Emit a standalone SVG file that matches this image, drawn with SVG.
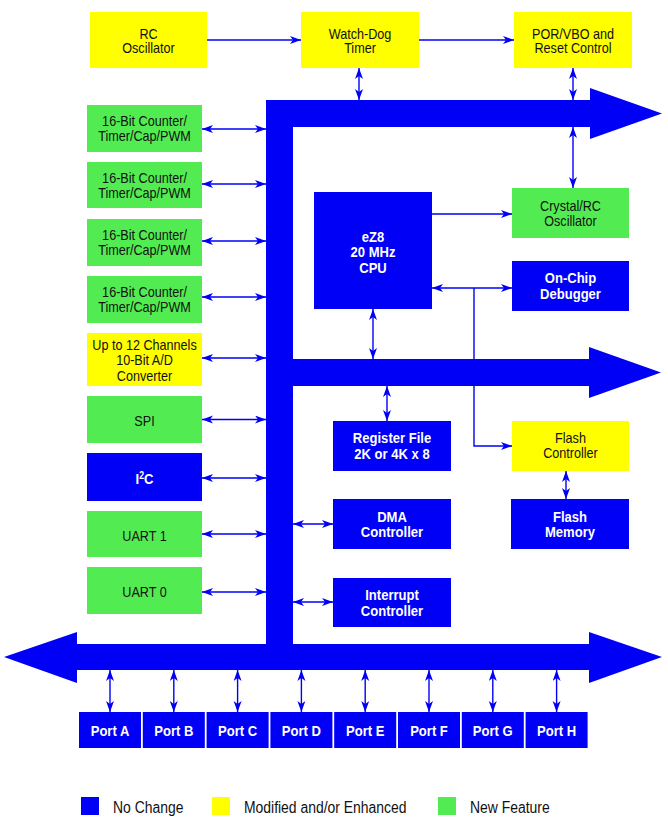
<svg xmlns="http://www.w3.org/2000/svg" width="668" height="820" viewBox="0 0 668 820">
<style>
.b{fill:#0000F6}
.y{fill:#FFFF00}
.g{fill:#52EC52}
.t{font-family:"Liberation Sans",Arial,sans-serif;font-size:14.5px;fill:#111;text-anchor:middle}
.w{font-family:"Liberation Sans",Arial,sans-serif;font-size:15px;font-weight:bold;fill:#fff;text-anchor:middle}
.l{font-family:"Liberation Sans",Arial,sans-serif;font-size:16px;fill:#111}
.c{stroke:#0000F6;stroke-width:1.4;fill:none}
.d{marker-start:url(#ah);marker-end:url(#ah)}
.e{marker-end:url(#ah)}
</style>
<defs>
<marker id="ah" markerUnits="userSpaceOnUse" markerWidth="12" markerHeight="9" refX="11" refY="4" orient="auto-start-reverse">
<path d="M0,0 L11,4 L0,8 L3,4 z" fill="#0000F6"/>
</marker>
</defs>
<rect width="668" height="820" fill="#fff"/>

<g id="bus" class="b">
<rect x="266" y="100" width="27" height="570"/>
<rect x="266" y="100" width="325" height="27"/>
<polygon points="590,88 662,113.5 590,139"/>
<rect x="292" y="359" width="299" height="27"/>
<polygon points="589,347 661,372.5 589,398"/>
<rect x="76" y="644" width="515" height="26"/>
<polygon points="77,632 4,657 77,683"/>
<polygon points="589,632 662,657 589,683"/>
</g>

<g id="connectors" class="c">
<path class="e" d="M207,40 H301"/>
<path class="e" d="M419,40 H514"/>
<path class="d" d="M359,68 V100"/>
<path class="d" d="M573,68 V100"/>
<path class="d" d="M573,127 V188"/>
<path class="d" d="M202,129 H266"/>
<path class="d" d="M202,184 H266"/>
<path class="d" d="M202,241 H266"/>
<path class="d" d="M202,297 H266"/>
<path class="d" d="M202,358 H266"/>
<path class="d" d="M202,419.5 H266"/>
<path class="d" d="M202,478 H266"/>
<path class="d" d="M202,534 H266"/>
<path class="d" d="M202,592 H266"/>
<path class="e" d="M432,214 H512"/>
<path class="d" d="M432,288 H512"/>
<path class="e" d="M474,288 V446 H512"/>
<path class="d" d="M373,309 V359"/>
<path class="d" d="M387,386 V421"/>
<path class="d" d="M566,471 V499"/>
<path class="d" d="M293,524 H333"/>
<path class="d" d="M293,602 H333"/>
<path class="d" d="M110,670 V712"/>
<path class="d" d="M173.8,670 V712"/>
<path class="d" d="M237.6,670 V712"/>
<path class="d" d="M301.4,670 V712"/>
<path class="d" d="M365.2,670 V712"/>
<path class="d" d="M429,670 V712"/>
<path class="d" d="M492.8,670 V712"/>
<path class="d" d="M556.6,670 V712"/>
</g>

<g id="rc-osc"><rect class="y" x="90" y="12" width="117" height="56"/>
<text class="t" transform="translate(148.5 38.5) scale(.87 1)"><tspan x="0">RC</tspan><tspan x="0" dy="15">Oscillator</tspan></text></g>
<g id="wdt"><rect class="y" x="301" y="12" width="118" height="56"/>
<text class="t" transform="translate(360 38.5) scale(.87 1)"><tspan x="0">Watch-Dog</tspan><tspan x="0" dy="15">Timer</tspan></text></g>
<g id="por"><rect class="y" x="514" y="12" width="118" height="56"/>
<text class="t" transform="translate(573 38.5) scale(.87 1)"><tspan x="0">POR/VBO and</tspan><tspan x="0" dy="15">Reset Control</tspan></text></g>

<g id="timer1"><rect class="g" x="87" y="105" width="115" height="47"/>
<text class="t" transform="translate(144.5 126) scale(.87 1)"><tspan x="0">16-Bit Counter/</tspan><tspan x="0" dy="15.5">Timer/Cap/PWM</tspan></text></g>
<g id="timer2"><rect class="g" x="87" y="162" width="115" height="46"/>
<text class="t" transform="translate(144.5 182.5) scale(.87 1)"><tspan x="0">16-Bit Counter/</tspan><tspan x="0" dy="15.5">Timer/Cap/PWM</tspan></text></g>
<g id="timer3"><rect class="g" x="87" y="219" width="115" height="47"/>
<text class="t" transform="translate(144.5 240) scale(.87 1)"><tspan x="0">16-Bit Counter/</tspan><tspan x="0" dy="15.5">Timer/Cap/PWM</tspan></text></g>
<g id="timer4"><rect class="g" x="87" y="276" width="115" height="47"/>
<text class="t" transform="translate(144.5 297) scale(.87 1)"><tspan x="0">16-Bit Counter/</tspan><tspan x="0" dy="15.5">Timer/Cap/PWM</tspan></text></g>
<g id="adc"><rect class="y" x="87" y="333" width="115" height="53"/>
<text class="t" transform="translate(144.5 349.5) scale(.87 1)"><tspan x="0">Up to 12 Channels</tspan><tspan x="0" dy="15.7">10-Bit A/D</tspan><tspan x="0" dy="15.7">Converter</tspan></text></g>
<g id="spi"><rect class="g" x="87" y="396" width="115" height="47"/>
<text class="t" transform="translate(144.5 426) scale(.87 1)">SPI</text></g>
<g id="i2c"><rect class="b" x="87" y="453" width="115" height="48"/>
<text class="w" transform="translate(144.5 483.5) scale(.87 1)">I<tspan font-size="10" dy="-5">2</tspan><tspan dy="5">C</tspan></text></g>
<g id="uart1"><rect class="g" x="87" y="511" width="115" height="46"/>
<text class="t" transform="translate(144.5 540.5) scale(.87 1)">UART 1</text></g>
<g id="uart0"><rect class="g" x="87" y="567" width="115" height="47"/>
<text class="t" transform="translate(144.5 597) scale(.87 1)">UART 0</text></g>

<g id="cpu"><rect class="b" x="314" y="192" width="118" height="117"/>
<text class="w" transform="translate(373 241.5) scale(.87 1)"><tspan x="0">eZ8</tspan><tspan x="0" dy="15.7">20 MHz</tspan><tspan x="0" dy="15.7">CPU</tspan></text></g>
<g id="crystal"><rect class="g" x="512" y="188" width="117" height="50"/>
<text class="t" transform="translate(570.5 210.5) scale(.87 1)"><tspan x="0">Crystal/RC</tspan><tspan x="0" dy="15.5">Oscillator</tspan></text></g>
<g id="ocd"><rect class="b" x="512" y="261" width="117" height="50"/>
<text class="w" transform="translate(570.5 283) scale(.87 1)"><tspan x="0">On-Chip</tspan><tspan x="0" dy="16">Debugger</tspan></text></g>
<g id="regfile"><rect class="b" x="333" y="421" width="118" height="50"/>
<text class="w" transform="translate(392 443) scale(.87 1)"><tspan x="0">Register File</tspan><tspan x="0" dy="16">2K or 4K x 8</tspan></text></g>
<g id="flashctl"><rect class="y" x="512" y="421" width="117" height="50"/>
<text class="t" transform="translate(570.5 443) scale(.87 1)"><tspan x="0">Flash</tspan><tspan x="0" dy="15.5">Controller</tspan></text></g>
<g id="dma"><rect class="b" x="333" y="499" width="118" height="50"/>
<text class="w" transform="translate(392 521.5) scale(.87 1)"><tspan x="0">DMA</tspan><tspan x="0" dy="16">Controller</tspan></text></g>
<g id="flashmem"><rect class="b" x="511" y="499" width="118" height="50"/>
<text class="w" transform="translate(570 521.5) scale(.87 1)"><tspan x="0">Flash</tspan><tspan x="0" dy="16">Memory</tspan></text></g>
<g id="intc"><rect class="b" x="333" y="578" width="118" height="49"/>
<text class="w" transform="translate(392 600) scale(.87 1)"><tspan x="0">Interrupt</tspan><tspan x="0" dy="16">Controller</tspan></text></g>

<g id="portA"><rect class="b" x="79" y="712" width="62" height="36"/><text class="w" transform="translate(110 736) scale(.87 1)">Port A</text></g>
<g id="portB"><rect class="b" x="142.8" y="712" width="62" height="36"/><text class="w" transform="translate(173.8 736) scale(.87 1)">Port B</text></g>
<g id="portC"><rect class="b" x="206.6" y="712" width="62" height="36"/><text class="w" transform="translate(237.6 736) scale(.87 1)">Port C</text></g>
<g id="portD"><rect class="b" x="270.4" y="712" width="62" height="36"/><text class="w" transform="translate(301.4 736) scale(.87 1)">Port D</text></g>
<g id="portE"><rect class="b" x="334.2" y="712" width="62" height="36"/><text class="w" transform="translate(365.2 736) scale(.87 1)">Port E</text></g>
<g id="portF"><rect class="b" x="398" y="712" width="62" height="36"/><text class="w" transform="translate(429 736) scale(.87 1)">Port F</text></g>
<g id="portG"><rect class="b" x="461.8" y="712" width="62" height="36"/><text class="w" transform="translate(492.8 736) scale(.87 1)">Port G</text></g>
<g id="portH"><rect class="b" x="525.6" y="712" width="62" height="36"/><text class="w" transform="translate(556.6 736) scale(.87 1)">Port H</text></g>

<g id="legend">
<rect class="b" x="81" y="797" width="18" height="18"/>
<text class="l" transform="translate(113 813) scale(.87 1)">No Change</text>
<rect class="y" x="212" y="797" width="18" height="18"/>
<text class="l" transform="translate(244 813) scale(.87 1)">Modified and/or Enhanced</text>
<rect class="g" x="438" y="797" width="18" height="18"/>
<text class="l" transform="translate(470 813) scale(.87 1)">New Feature</text>
</g>
</svg>
